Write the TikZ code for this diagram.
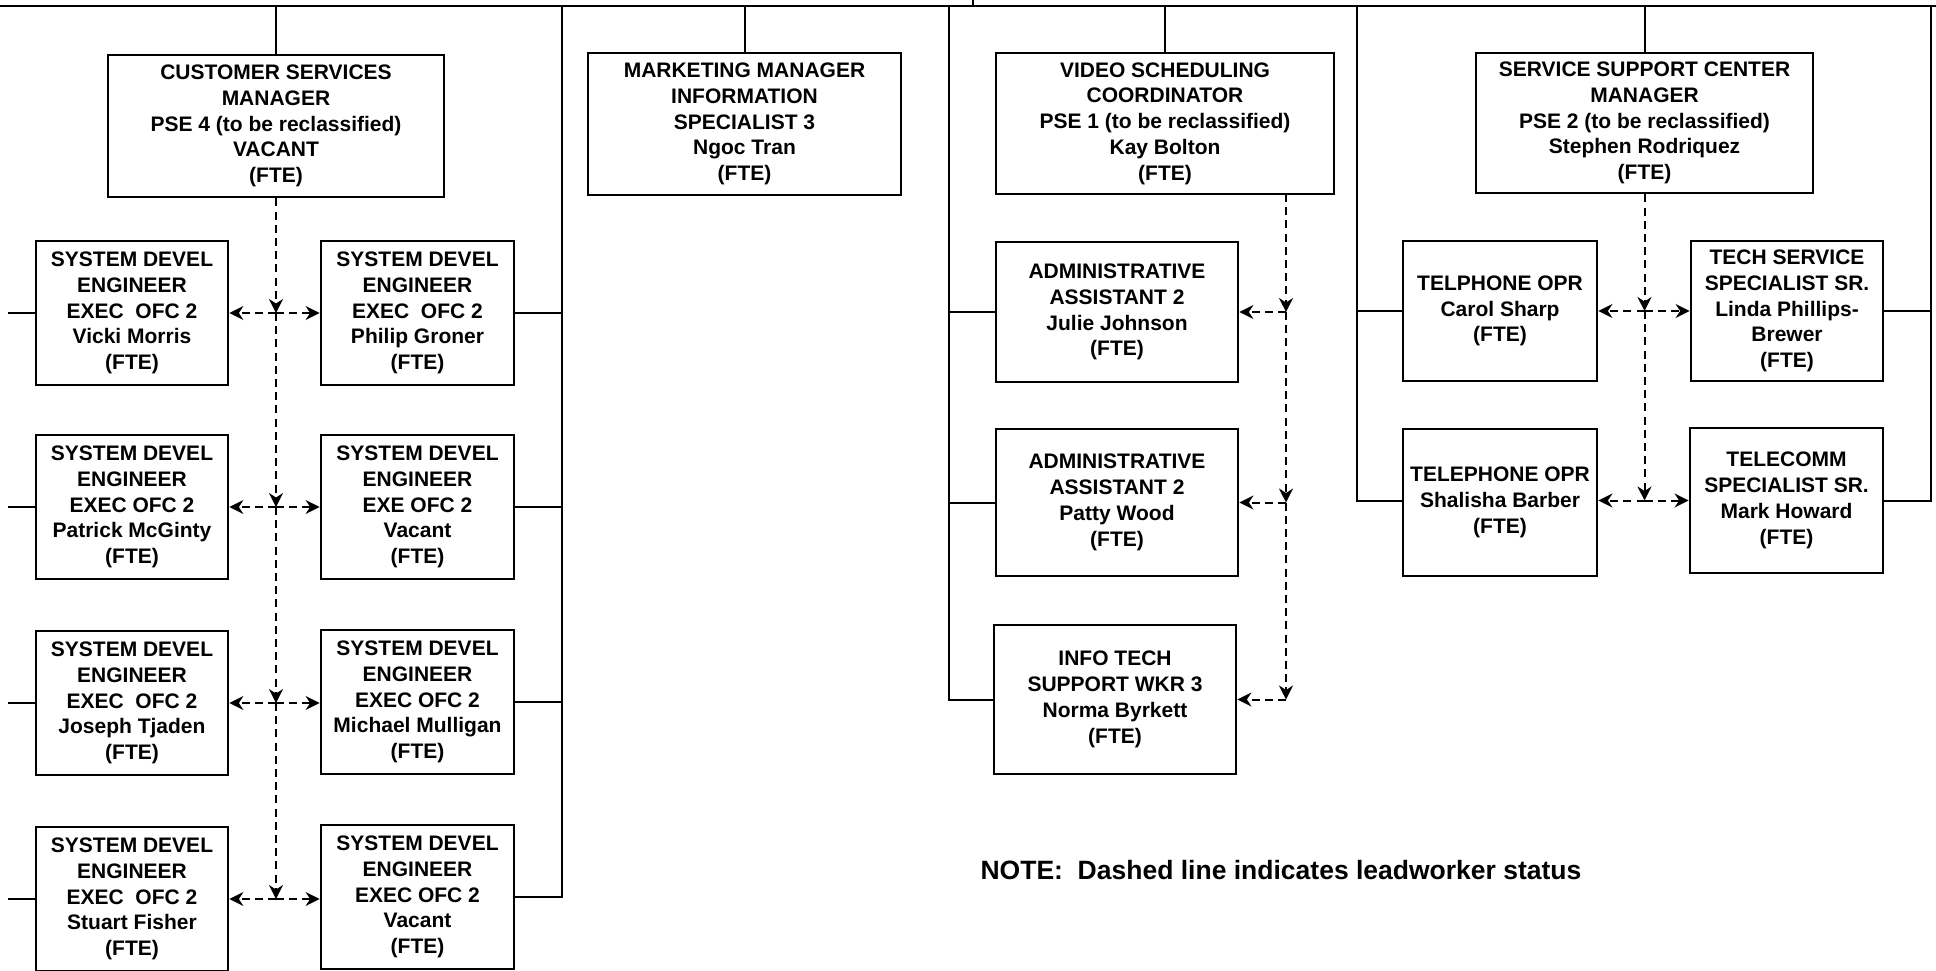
\documentclass[tikz,border=0pt]{standalone}
\usepackage{fontspec}
\setmainfont{Liberation Sans}
\usetikzlibrary{arrows.meta}
\begin{document}
\begin{tikzpicture}[x=0.5pt,y=-0.5pt,
  box/.style={draw, line width=1.4pt, align=center, inner sep=0pt,
    font=\bfseries\fontsize{10.5}{12.9}\selectfont},
  bigbox/.style={box, minimum height=71pt},
  lbox/.style={box, minimum width=96pt, minimum height=72pt},
  rbox/.style={box, minimum width=96.5pt, minimum height=72pt},
  abox/.style={box, minimum width=121pt},
  sbox/.style={box, minimum width=97pt},
  link/.style={line width=1pt},
  lead/.style={line width=1pt, dash pattern=on 4pt off 2.6pt,
    -{Stealth[length=7pt,width=7pt]}},
  notetext/.style={font=\bfseries\fontsize{13.25}{15}\selectfont, inner sep=0pt}
]
\path[use as bounding box, fill=white] (0,0) rectangle (1936,970);

% ---------- top level bus ----------
\coordinate (topL) at (0,6);
\coordinate (topR) at (1936,6);
\coordinate (tick) at (973,0);
\draw[link] (topL) -- (topR);
\draw[link] (tick) -- (tick |- topL);

% ---------- customer services ----------
\node[bigbox, minimum width=168pt] (cs) at (276,126)
  {CUSTOMER SERVICES\\MANAGER\\PSE 4 (to be reclassified)\\VACANT\\(FTE)};

\node[lbox] (l1) at (132,313) {SYSTEM DEVEL\\ENGINEER\\EXEC~~OFC 2\\Vicki Morris\\(FTE)};
\node[rbox] (r1) at (417.5,313) {SYSTEM DEVEL\\ENGINEER\\EXEC~~OFC 2\\Philip Groner\\(FTE)};
\node[lbox] (l2) at (132,507) {SYSTEM DEVEL\\ENGINEER\\EXEC OFC 2\\Patrick McGinty\\(FTE)};
\node[rbox] (r2) at (417.5,507) {SYSTEM DEVEL\\ENGINEER\\EXE OFC 2\\Vacant\\(FTE)};
\node[lbox] (l3) at (132,703) {SYSTEM DEVEL\\ENGINEER\\EXEC~~OFC 2\\Joseph Tjaden\\(FTE)};
\node[rbox] (r3) at (417.5,702) {SYSTEM DEVEL\\ENGINEER\\EXEC OFC 2\\Michael Mulligan\\(FTE)};
\node[lbox] (l4) at (132,899) {SYSTEM DEVEL\\ENGINEER\\EXEC~~OFC 2\\Stuart Fisher\\(FTE)};
\node[rbox] (r4) at (417.5,897) {SYSTEM DEVEL\\ENGINEER\\EXEC OFC 2\\Vacant\\(FTE)};

\draw[link] (cs.north) -- (cs.north |- topL);
\coordinate (csbus) at (562,6);
\coordinate (lstub) at (8,0);
\draw[link] (csbus) |- (r4.east);
\foreach \n in {r1,r2,r3} \draw[link] (\n.east) -- (\n.east -| csbus);
\foreach \n in {l1,l2,l3,l4} \draw[link] (\n.west) -- (\n.west -| lstub);

\draw[lead] (cs.south) -- (cs.south |- l1.east);
\draw[lead] (cs.south |- l1.east) -- (cs.south |- l2.east);
\draw[lead] (cs.south |- l2.east) -- (cs.south |- l3.east);
\draw[lead] (cs.south |- l3.east) -- (cs.south |- l4.east);
\foreach \n/\m in {l1/r1,l2/r2,l3/r3,l4/r4} {
  \draw[lead] (cs.south |- \n.east) -- (\n.east);
  \draw[lead] (cs.south |- \n.east) -- (\m.west |- \n.east);
}

% ---------- marketing ----------
\node[bigbox, minimum width=156.5pt] (mk) at (744.5,124)
  {MARKETING MANAGER\\INFORMATION\\SPECIALIST 3\\Ngoc Tran\\(FTE)};
\draw[link] (mk.north) -- (mk.north |- topL);

% ---------- video scheduling ----------
\node[bigbox, minimum width=169pt, minimum height=70.5pt] (vs) at (1165,123.5)
  {VIDEO SCHEDULING\\COORDINATOR\\PSE 1 (to be reclassified)\\Kay Bolton\\(FTE)};
\node[abox, minimum height=70pt] (a1) at (1117,312)
  {ADMINISTRATIVE\\ASSISTANT 2\\Julie Johnson\\(FTE)};
\node[abox, minimum height=73.5pt] (a2) at (1117,502.5)
  {ADMINISTRATIVE\\ASSISTANT 2\\Patty Wood\\(FTE)};
\node[abox, minimum height=74.5pt] (it) at (1115,699.5)
  {INFO TECH\\SUPPORT WKR 3\\Norma Byrkett\\(FTE)};

\draw[link] (vs.north) -- (vs.north |- topL);
\coordinate (vbus) at (949,6);
\draw[link] (vbus) |- (it.west);
\foreach \n in {a1,a2} \draw[link] (\n.west) -- (\n.west -| vbus);

\coordinate (vdash) at (1286,194);
\draw[lead] (vdash) -- (vdash |- a1.east);
\draw[lead] (vdash |- a1.east) -- (vdash |- a2.east);
\draw[lead] (vdash |- a2.east) -- (vdash |- it.east);
\foreach \n in {a1,a2,it} \draw[lead] (vdash |- \n.east) -- (\n.east);

% ---------- service support center ----------
\node[bigbox, minimum width=168.5pt, minimum height=70pt] (ssc) at (1644.5,123)
  {SERVICE SUPPORT CENTER\\MANAGER\\PSE 2 (to be reclassified)\\Stephen Rodriquez\\(FTE)};
\node[sbox, minimum height=70pt] (t1) at (1500,311)
  {TELPHONE OPR\\Carol Sharp\\(FTE)};
\node[box, minimum width=96pt, minimum height=70pt] (ts) at (1787,311)
  {TECH SERVICE\\SPECIALIST SR.\\Linda Phillips-\\Brewer\\(FTE)};
\node[sbox, minimum height=73.5pt] (t2) at (1500,502.5)
  {TELEPHONE OPR\\Shalisha Barber\\(FTE)};
\node[box, minimum width=96.5pt, minimum height=72.5pt] (tc) at (1786.5,500.5)
  {TELECOMM\\SPECIALIST SR.\\Mark Howard\\(FTE)};

\draw[link] (ssc.north) -- (ssc.north |- topL);
\coordinate (sbusL) at (1357,6);
\coordinate (sbusR) at (1931,6);
\draw[link] (sbusL) |- (t2.west |- tc.east);
\draw[link] (t1.west) -- (t1.west -| sbusL);
\draw[link] (sbusR) |- (tc.east);
\draw[link] (ts.east) -- (ts.east -| sbusR);

\draw[lead] (ssc.south) -- (ssc.south |- ts.west);
\draw[lead] (ssc.south |- ts.west) -- (ssc.south |- tc.west);
\draw[lead] (ssc.south |- ts.west) -- (t1.east |- ts.west);
\draw[lead] (ssc.south |- ts.west) -- (ts.west);
\draw[lead] (ssc.south |- tc.west) -- (t2.east |- tc.west);
\draw[lead] (ssc.south |- tc.west) -- (tc.west);

% ---------- note ----------
\node[notetext] (note) at (1281,870) {NOTE:\ \ Dashed line indicates leadworker status};
\end{tikzpicture}
\end{document}
